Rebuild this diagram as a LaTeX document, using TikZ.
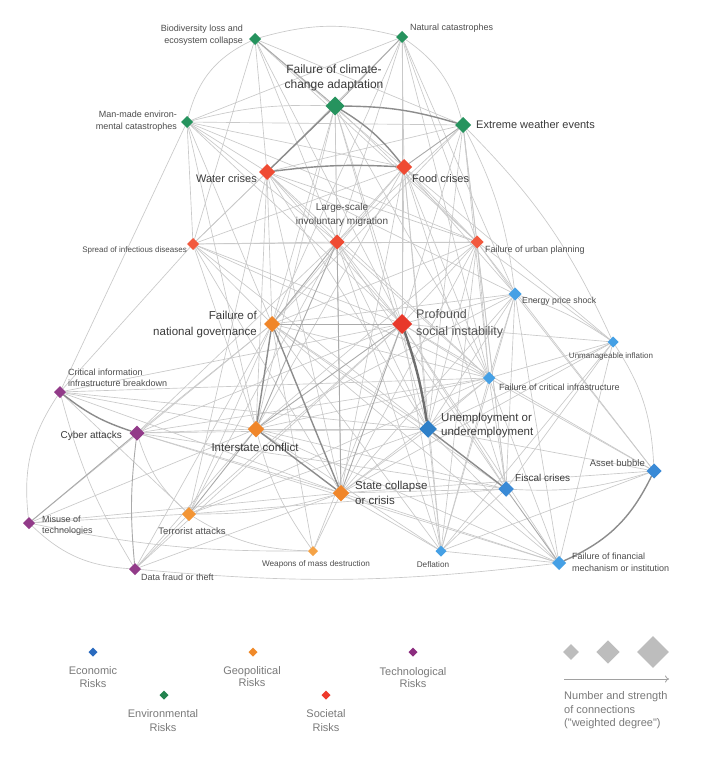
\documentclass[tikz,border=0pt]{standalone}
\usepackage{fontspec}
\setmainfont{Liberation Sans}
\usetikzlibrary{shapes.geometric,backgrounds,arrows.meta}
\definecolor{gr}{HTML}{26935E}
\definecolor{rd}{HTML}{EF4B33}
\definecolor{rdS}{HTML}{E8382A}
\definecolor{rdL}{HTML}{F25A3F}
\definecolor{og}{HTML}{F0862A}
\definecolor{ogL}{HTML}{F39535}
\definecolor{ogX}{HTML}{F5A347}
\definecolor{bl}{HTML}{45A0E5}
\definecolor{blM}{HTML}{3A8AD6}
\definecolor{blD}{HTML}{2F80C8}
\definecolor{pu}{HTML}{923B89}
\definecolor{tA}{HTML}{3A3A3A}
\definecolor{tB}{HTML}{4D4D4D}
\definecolor{tP}{HTML}{555555}
\definecolor{tL}{HTML}{7A7A7A}
\definecolor{eL}{HTML}{C9C9C9}
\definecolor{eM}{HTML}{AAAAAA}
\definecolor{eD}{HTML}{8C8C8C}
\definecolor{eX}{HTML}{6E6E6E}
\definecolor{lgE}{HTML}{2A6BBF}
\definecolor{lgV}{HTML}{23834F}
\definecolor{lgG}{HTML}{F08A2A}
\definecolor{lgS}{HTML}{EE3A2C}
\definecolor{lgT}{HTML}{8C2D7F}
\definecolor{lgZ}{HTML}{BDBDBD}
\begin{document}
\begin{tikzpicture}[x=1pt,y=-1pt,
  dia/.style={diamond, aspect=1, inner sep=0pt, outer sep=0pt, draw=none, fill=#1},
  fs/.style 2 args={font=\fontsize{#1}{#2}\selectfont, inner sep=0pt},
  lw/.style={draw=eL, line width=0.65pt},
  lm/.style={draw=eM, line width=0.9pt},
  ld/.style={draw=eD, line width=1.4pt},
  lx/.style={draw=eX, line width=2.4pt}]
\path[use as bounding box] (0,0) rectangle (703,760);

% ---- risk nodes ----
\node[dia=gr, minimum size=12pt] (bio) at (255,39) {};
\node[dia=gr, minimum size=12pt] (nat) at (402,37) {};
\node[dia=gr, minimum size=19pt] (cca) at (335,106) {};
\node[dia=gr, minimum size=16pt] (ext) at (463,125) {};
\node[dia=gr, minimum size=12pt] (man) at (187,122) {};
\node[dia=rd, minimum size=16pt] (wat) at (267,172) {};
\node[dia=rd, minimum size=16pt] (food) at (404,167) {};
\node[dia=rd, minimum size=15pt] (mig) at (337,242) {};
\node[dia=rdL, minimum size=12pt] (inf) at (193,244) {};
\node[dia=rdL, minimum size=13pt] (urb) at (477,242) {};
\node[dia=bl, minimum size=13pt] (ene) at (515,294) {};
\node[dia=og, minimum size=16pt] (gov) at (272,324) {};
\node[dia=rdS, minimum size=20pt] (soc) at (402,324) {};
\node[dia=bl, minimum size=11pt] (infl) at (613,342) {};
\node[dia=pu, minimum size=12pt] (cii) at (60,392) {};
\node[dia=bl, minimum size=12.5pt] (fci) at (489,378) {};
\node[dia=pu, minimum size=15pt] (cyb) at (137,433) {};
\node[dia=og, minimum size=16.5pt] (isc) at (256,429) {};
\node[dia=blD, minimum size=17.5pt] (une) at (428,429) {};
\node[dia=blM, minimum size=15pt] (ass) at (654,471) {};
\node[dia=blM, minimum size=15.5pt] (fis) at (506,489) {};
\node[dia=og, minimum size=16.5pt] (sta) at (341,493) {};
\node[dia=pu, minimum size=12pt] (mis) at (29,523) {};
\node[dia=ogL, minimum size=14pt] (ter) at (189,514) {};
\node[dia=ogX, minimum size=10pt] (wmd) at (313,551) {};
\node[dia=bl, minimum size=11pt] (def) at (441,551) {};
\node[dia=bl, minimum size=14pt] (fin) at (559,563) {};
\node[dia=pu, minimum size=12pt] (dat) at (135,569) {};

% ---- labels ----
\node[fs={9}{11.7}, text=tB, anchor=east, align=right] (tbio) at (243,35) {Biodiversity loss and\\ecosystem collapse};
\node[fs={9}{11.7}, text=tB, anchor=west] (tnat) at (410,28) {Natural catastrophes};
\node[fs={12}{15}, text=tA, align=center] (tcca) at (334,77.5) {Failure of climate-\\change adaptation};
\node[fs={11}{14}, text=tA, anchor=west] (text) at (476,125) {Extreme weather events};
\node[fs={9}{11.7}, text=tB, anchor=east, align=right] (tman) at (177,121) {Man-made environ-\\mental catastrophes};
\node[fs={11}{14}, text=tA, anchor=east] (twat) at (257,179) {Water crises};
\node[fs={11}{14}, text=tA, anchor=west] (tfood) at (412,179) {Food crises};
\node[fs={10}{14}, text=tB, align=center] (tmig) at (342,215) {Large-scale\\involuntary migration};
\node[fs={8}{10}, text=tB, anchor=east] (tinf) at (187,250) {Spread of infectious diseases};
\node[fs={9}{11.7}, text=tB, anchor=west] (turb) at (485,250) {Failure of urban planning};
\node[fs={8.7}{11}, text=tB, anchor=west] (tene) at (522,301) {Energy price shock};
\node[fs={11.5}{15.5}, text=tA, anchor=east, align=right] (tgov) at (257,324.5) {Failure of\\national governance};
\node[fs={12.5}{16.5}, text=tP, anchor=west, align=left] (tsoc) at (416,324) {Profound\\social instability};
\node[fs={8}{10}, text=tB] (tinfl) at (611,356) {Unmanageable inflation};
\node[fs={9}{10.8}, text=tB, anchor=west, align=left] (tcii) at (68,378) {Critical information\\infrastructure breakdown};
\node[fs={9}{11.7}, text=tB, anchor=west] (tfci) at (499,387) {Failure of critical infrastructure};
\node[fs={10}{13}, text=tA, anchor=east] (tcyb) at (122,436) {Cyber attacks};
\node[fs={11.5}{15}, text=tA] (tisc) at (255,447) {Interstate conflict};
\node[fs={11.5}{14.8}, text=tA, anchor=west, align=left] (tune) at (441,425.5) {Unemployment or\\underemployment};
\node[fs={9.5}{12}, text=tB, anchor=east] (tass) at (645,463) {Asset bubble};
\node[fs={10}{13}, text=tA, anchor=west] (tfis) at (515,478) {Fiscal crises};
\node[fs={11.5}{14.5}, text=tA, anchor=west, align=left] (tsta) at (355,493) {State collapse\\or crisis};
\node[fs={9}{11}, text=tB, anchor=west, align=left] (tmis) at (42,525.5) {Misuse of\\technologies};
\node[fs={9.5}{12}, text=tB] (tter) at (192,531) {Terrorist attacks};
\node[fs={8.2}{10}, text=tB] (twmd) at (316,564) {Weapons of mass destruction};
\node[fs={8.2}{10}, text=tB] (tdef) at (433,565) {Deflation};
\node[fs={9}{12}, text=tB, anchor=west, align=left] (tfin) at (572,562) {Failure of financial\\mechanism or institution};
\node[fs={9}{12}, text=tB, anchor=west] (tdat) at (141,577) {Data fraud or theft};

% ---- legend ----
\node[dia=lgE, minimum size=9pt] (kE) at (93,652) {};
\node[dia=lgV, minimum size=9pt] (kV) at (164,695) {};
\node[dia=lgG, minimum size=9pt] (kG) at (253,652) {};
\node[dia=lgS, minimum size=9pt] (kS) at (326,695) {};
\node[dia=lgT, minimum size=9pt] (kT) at (413,652) {};
\node[fs={11}{12.8}, text=tL, align=center] (lE) at (93,677) {Economic\\Risks};
\node[fs={11}{14.4}, text=tL, align=center] (lV) at (163,720.5) {Environmental\\Risks};
\node[fs={11}{12.8}, text=tL, align=center] (lG) at (252,676.5) {Geopolitical\\Risks};
\node[fs={11}{14.4}, text=tL, align=center] (lS) at (326,720.5) {Societal\\Risks};
\node[fs={11}{12.8}, text=tL, align=center] (lT) at (413,677.5) {Technological\\Risks};
\node[dia=lgZ, minimum size=15.6pt] (z1) at (571,652) {};
\node[dia=lgZ, minimum size=23.4pt] (z2) at (608,652) {};
\node[dia=lgZ, minimum size=31.6pt] (z3) at (653,652) {};
\coordinate (a1) at (564,679);
\coordinate (a2) at (669,679);
\draw[draw=lgZ!85!black, line width=0.8pt, -{To[length=4pt,width=7pt]}] (a1) -- (a2);
\node[fs={11}{13.5}, text=tL, anchor=west, align=left] (lZ) at (564,710.5) {Number and strength\\of connections\\(\textquotedbl weighted degree\textquotedbl)};

% ---- connections ----
\begin{pgfonlayer}{background}
\fill[white] (0,0) rectangle (703,760);
\foreach \a/\b in {
 bio/wat, bio/food, bio/ext, bio/mig, bio/urb, bio/soc, bio/inf,
 nat/man, nat/wat, nat/food, nat/mig, nat/urb, nat/ene, nat/fci, nat/soc, nat/gov,
 man/ext, man/wat, man/food, man/inf, man/mig, man/urb, man/cii, man/gov, man/soc, man/isc,
 cca/mig, cca/soc, cca/urb, cca/inf, cca/gov, cca/isc, cca/sta, cca/fci, cca/une,
 ext/wat, ext/urb, ext/fci, ext/mig, ext/soc, ext/une, ext/gov, ext/fis,
 wat/mig, wat/gov, wat/soc, wat/isc, wat/inf, wat/urb, wat/sta, wat/ene, wat/une, wat/ter, wat/fci,
 food/mig, food/soc, food/urb, food/gov, food/une, food/infl, food/inf, food/ene, food/isc, food/sta, food/fis, food/fci, food/def,
 mig/inf, mig/urb, mig/une, mig/ter, mig/fis, mig/def, mig/cyb, mig/soc, mig/fci,
 inf/gov, inf/soc, inf/urb, inf/fci, inf/sta, inf/cii, inf/une, inf/isc,
 urb/ene, urb/fci, urb/soc, urb/gov, urb/infl, urb/une, urb/fis, urb/sta, urb/isc, urb/def, urb/ass,
 ene/fci, ene/soc, ene/fis, ene/une, ene/def, ene/ass, ene/fin, ene/isc, ene/gov, ene/sta,
 gov/une, gov/ter, gov/cyb, gov/fis, gov/fci, gov/wmd, gov/def, gov/mis, gov/dat, gov/fin,
 soc/ter, soc/fis, soc/fci, soc/infl, soc/def, soc/cyb, soc/fin, soc/ass, soc/wmd, soc/dat,
 infl/fci, infl/une, infl/fis, infl/fin, infl/def, infl/sta,
 cii/fci, cii/ter, cii/sta, cii/isc, cii/une, cii/soc,
 fci/une, fci/fis, fci/fin, fci/ass, fci/def, fci/sta, fci/cyb, fci/isc, fci/ter,
 cyb/isc, cyb/sta, cyb/une, cyb/fin, cyb/fis,
 isc/une, isc/fis, isc/mis, isc/dat, isc/def, isc/fin,
 une/sta, une/def, une/fin, une/ass, une/ter,
 ass/def, ass/sta, fis/def, fis/sta, fis/ter,
 sta/wmd, sta/def, sta/fin, sta/mis, sta/dat,
 mis/ter, ter/dat, def/fin}
 \draw[lw] (\a) -- (\b);
\foreach \a/\b/\c in {
 bio/nat/15, bio/man/-25, nat/ext/20, man/cca/8, ext/ene/10, ext/infl/10,
 cii/mis/-20, mis/dat/-20, cii/dat/-8, cyb/ter/-15, ter/wmd/-15, dat/fin/-6,
 mis/wmd/-6, infl/ass/15, fis/ass/-10, isc/wmd/-10, ter/sta/-8, ene/infl/8}
 \draw[lw] (\a) to[bend left=\c] (\b);
\foreach \a/\b in {bio/cca, nat/cca, ext/food, gov/soc, mig/isc, mig/sta, soc/sta,
 soc/isc, cyb/mis, isc/ter, fis/fin, mig/gov}
 \draw[lm] (\a) -- (\b);
\draw[lm] (cyb) to[bend left=-6] (dat);
\foreach \a/\b in {cca/wat, gov/isc, gov/sta, isc/sta, une/fis}
 \draw[ld] (\a) -- (\b);
\foreach \a/\b/\c in {cca/ext/8, wat/food/5, cca/food/10, cii/cyb/-10, ass/fin/20}
 \draw[ld] (\a) to[bend left=\c] (\b);
\draw[lx] (soc) to[bend left=5] (une);
\end{pgfonlayer}
\end{tikzpicture}
\end{document}
